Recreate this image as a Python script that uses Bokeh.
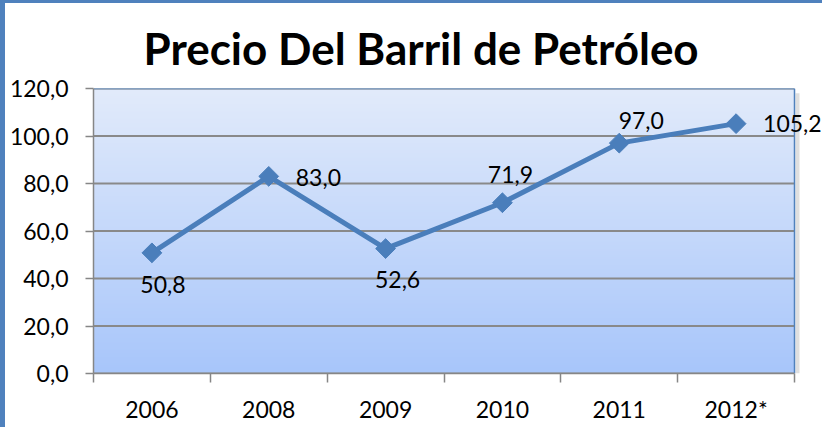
import numpy as np
from bokeh.plotting import figure
from bokeh.models import FixedTicker, Label, Range1d, ColumnDataSource
from bokeh.embed import file_html
from bokeh.resources import INLINE

# ---- data ----
categories = ["2006", "2008", "2009", "2010", "2011", "2012*"]
prices = [50.8, 83.0, 52.6, 71.9, 97.0, 105.2]
price_labels = ["50,8", "83,0", "52,6", "71,9", "97,0", "105,2"]
y_ticks = [0, 20, 40, 60, 80, 100, 120]
y_tick_labels = ["0,0", "20,0", "40,0", "60,0", "80,0", "100,0", "120,0"]

# ---- label placement (style) ----
label_dx = [11, 27, 12, 8, 22, 27]
label_dy = [-32, -1, -31, 28, 23, 0]
label_align = ["center", "left", "center", "center", "center", "left"]

FONT = "Lato"
ncat = len(categories)
xpos = list(range(1, ncat + 1))
x_lo, x_hi = 0.5, ncat + 0.5
y_lo, y_hi = y_ticks[0], y_ticks[-1]

# plot area is 701 px wide; the frame extends further right so that
# the last data label is not clipped
AREA_W = 701
EXTRA_W = 31
x_end = x_lo + (x_hi - x_lo) * (AREA_W + EXTRA_W) / AREA_W

p = figure(width=822, height=427, output_backend="svg", toolbar_location=None,
           x_range=Range1d(x_lo, x_end), y_range=Range1d(y_lo, y_hi),
           min_border_left=88, min_border_right=2, min_border_top=85, min_border_bottom=57)
p.styles = {"border-left": "5px solid #4f81bd", "border-top": "3px solid #4f81bd"}
p.outline_line_color = None
p.background_fill_color = "white"

# title
p.title.text = "Precio Del Barril de Petróleo"
p.title.text_font = FONT
p.title.text_font_size = "44px"
p.title.text_font_style = "bold"
p.title.text_color = "black"
p.title.align = "left"
p.title.offset = 50
p.title.standoff = 30

# gradient background of the plot area
n = 256
top = np.array([0xE2, 0xEB, 0xFB], dtype=float)
bot = np.array([0xA8, 0xC6, 0xFA], dtype=float)
t = np.linspace(0, 1, n)[:, None]
cols = (bot * (1 - t) + top * t).astype(np.uint32)
img = np.zeros((n, 1), dtype=np.uint32)
view = img.view(dtype=np.uint8).reshape((n, 1, 4))
view[:, 0, 0] = cols[:, 0]
view[:, 0, 1] = cols[:, 1]
view[:, 0, 2] = cols[:, 2]
view[:, 0, 3] = 255
bg = p.image_rgba(image=[img], x=x_lo, y=y_lo, dw=x_hi - x_lo, dh=y_hi - y_lo)
bg.level = "image"

# subtle shadow of the plot area
px = (x_hi - x_lo) / AREA_W
p.segment(x0=[x_hi + 3 * px], y0=[y_lo], x1=[x_hi + 3 * px], y1=[y_hi - 2],
          line_color="#7f7f7f", line_alpha=0.25, line_width=4)
p.segment(x0=[x_lo + 3 * px], y0=[y_lo - 1.1], x1=[x_hi + 5 * px], y1=[y_lo - 1.1],
          line_color="#7f7f7f", line_alpha=0.25, line_width=4)

# grid lines limited to the plot area
p.xgrid.visible = False
p.ygrid.visible = False
p.segment(x0=[x_lo] * len(y_ticks), y0=y_ticks, x1=[x_hi] * len(y_ticks), y1=y_ticks,
          line_color="#898989", line_width=2)
# plot area border (top and right)
p.segment(x0=[x_lo, x_hi], y0=[y_hi, y_lo], x1=[x_hi, x_hi], y1=[y_hi, y_hi],
          line_color="#4f81bd", line_width=1.5)

# axes
p.yaxis.ticker = FixedTicker(ticks=y_ticks)
p.yaxis.major_label_overrides = {v: s for v, s in zip(y_ticks, y_tick_labels)}
p.xaxis.ticker = FixedTicker(ticks=xpos, minor_ticks=[x - 0.5 for x in xpos] + [xpos[-1] + 0.5])
p.xaxis.major_label_overrides = {x: c for x, c in zip(xpos, categories)}
p.xaxis.bounds = (x_lo, x_hi)
for ax in (p.xaxis[0], p.yaxis[0]):
    ax.axis_line_color = "#868686"
    ax.axis_line_width = 1.5
    ax.major_label_text_font = FONT
    ax.major_label_text_font_size = "23px"
    ax.major_label_text_color = "black"
p.yaxis.major_tick_line_color = "#868686"
p.yaxis.major_tick_line_width = 1.5
p.yaxis.major_tick_in = 0
p.yaxis.major_tick_out = 8
p.yaxis.minor_tick_line_color = None
p.yaxis.major_label_standoff = 17
p.xaxis.major_tick_line_color = None
p.xaxis.minor_tick_line_color = "#868686"
p.xaxis.minor_tick_line_width = 1.5
p.xaxis.minor_tick_in = 0
p.xaxis.minor_tick_out = 9
p.xaxis.major_label_standoff = 12

src = ColumnDataSource(dict(x=xpos, y=prices))
p.line("x", "y", source=src, line_color="#4a7ebb", line_width=5)
p.scatter("x", "y", source=src, marker="square", angle=np.pi / 4, size=14,
          fill_color="#4a7ebb", line_color="#4a7ebb")

for x, y, lab, dx, dy, al in zip(xpos, prices, price_labels, label_dx, label_dy, label_align):
    p.add_layout(Label(x=x, y=y, text=lab, x_offset=dx, y_offset=dy,
                       text_align=al, text_baseline="middle", text_font=FONT,
                       text_font_size="23px", text_color="black"))

open("out.html", "w").write(file_html(p, INLINE))
